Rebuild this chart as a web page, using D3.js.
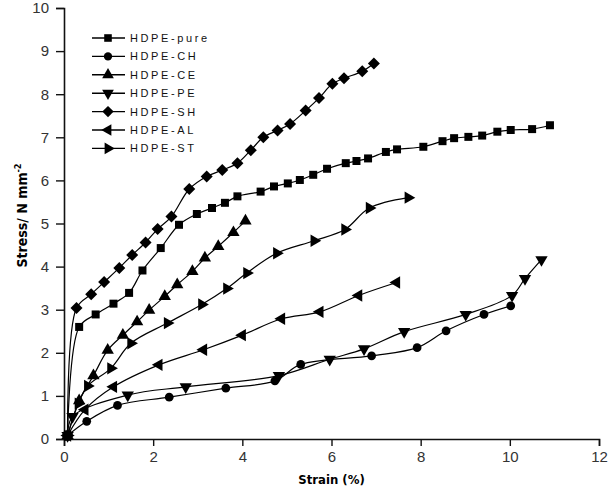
<!DOCTYPE html>
<html>
<head>
<meta charset="utf-8">
<script src="https://cdn.jsdelivr.net/npm/d3@7"></script>
<style>
  body { margin: 0; background: #fff; }
  svg { display: block; }
</style>
</head>
<body>
<div id="chart"></div>
<script>
// values (strain %, stress N/mm2)
var pureX = [0.08, 0.34, 0.71, 1.11, 1.46, 1.76, 2.17, 2.58, 2.98, 3.32, 3.61, 3.89, 4.41, 4.71, 5.02, 5.29, 5.59, 5.90, 6.32, 6.56, 6.82, 7.22, 7.47, 8.06, 8.49, 8.75, 9.07, 9.38, 9.72, 10.02, 10.50, 10.90];
var pureY = [0.08, 2.60, 2.89, 3.14, 3.39, 3.91, 4.43, 4.97, 5.22, 5.36, 5.48, 5.63, 5.74, 5.86, 5.93, 6.01, 6.13, 6.27, 6.40, 6.45, 6.51, 6.66, 6.72, 6.78, 6.91, 6.98, 7.01, 7.04, 7.13, 7.17, 7.19, 7.28];

var chX = [0.08, 0.51, 1.20, 2.36, 3.63, 4.73, 5.31, 6.90, 7.92, 8.57, 9.42, 10.02];
var chY = [0.08, 0.41, 0.78, 0.97, 1.18, 1.35, 1.73, 1.93, 2.12, 2.51, 2.89, 3.09];

var ceX = [0.08, 0.34, 0.66, 0.98, 1.32, 1.64, 1.91, 2.26, 2.54, 2.88, 3.16, 3.46, 3.80, 4.07];
var ceY = [0.08, 0.89, 1.47, 2.06, 2.41, 2.72, 2.99, 3.31, 3.58, 3.89, 4.20, 4.47, 4.79, 5.06];

var peX = [0.08, 0.19, 1.43, 2.73, 4.82, 5.96, 6.73, 7.63, 9.01, 10.05, 10.34, 10.71];
var peY = [0.08, 0.52, 1.02, 1.21, 1.47, 1.85, 2.09, 2.49, 2.89, 3.33, 3.72, 4.16];

var shX = [0.08, 0.28, 0.61, 0.90, 1.24, 1.53, 1.83, 2.10, 2.41, 2.81, 3.20, 3.55, 3.89, 4.19, 4.47, 4.79, 5.07, 5.42, 5.72, 6.02, 6.28, 6.69, 6.95];
var shY = [0.08, 3.04, 3.36, 3.64, 3.97, 4.27, 4.56, 4.87, 5.16, 5.80, 6.09, 6.24, 6.40, 6.70, 7.00, 7.16, 7.31, 7.62, 7.91, 8.24, 8.37, 8.53, 8.71];

var alX = [0.08, 0.47, 1.11, 2.13, 3.13, 4.00, 4.88, 5.74, 6.61, 7.46];
var alY = [0.08, 0.68, 1.21, 1.72, 2.07, 2.41, 2.79, 2.95, 3.33, 3.63];

var stX = [0.08, 0.32, 0.53, 1.05, 1.50, 2.32, 3.09, 3.65, 4.10, 4.77, 5.61, 6.30, 6.85, 7.72];
var stY = [0.08, 0.82, 1.23, 1.64, 2.22, 2.69, 3.12, 3.49, 3.85, 4.31, 4.60, 4.86, 5.36, 5.60];

var seriesNames = ["HDPE-pure", "HDPE-CH", "HDPE-CE", "HDPE-PE", "HDPE-SH", "HDPE-AL", "HDPE-ST"];
var xTicks = [0, 2, 4, 6, 8, 10, 12];
var yTicks = [0, 1, 2, 3, 4, 5, 6, 7, 8, 9, 10];

var W = 610, H = 488;
var margin = { top: 8, right: 11, bottom: 49, left: 64 };
var width = W - margin.left - margin.right;
var height = H - margin.top - margin.bottom;

// marker shape per series: symbol, rotation, area
var shapes = [
  { sym: d3.symbolSquare, rot: 0, size: 64 },
  { sym: d3.symbolCircle, rot: 0, size: 60 },
  { sym: d3.symbolTriangle, rot: 0, size: 66 },
  { sym: d3.symbolTriangle, rot: 180, size: 66 },
  { sym: d3.symbolSquare, rot: 45, size: 72 },
  { sym: d3.symbolTriangle, rot: -90, size: 66 },
  { sym: d3.symbolTriangle, rot: 90, size: 66 }
];

var series = [
  [pureX, pureY], [chX, chY], [ceX, ceY], [peX, peY],
  [shX, shY], [alX, alY], [stX, stY]
].map(function (s, i) {
  return { name: seriesNames[i], shape: shapes[i],
    pts: s[0].map(function (v, j) { return [v, s[1][j]]; }) };
});

var svg = d3.select("#chart").append("svg")
  .attr("width", W).attr("height", H);

var g = svg.append("g")
  .attr("transform", "translate(" + margin.left + "," + margin.top + ")");

var x = d3.scaleLinear().domain([0, 12]).range([0, width]);
var y = d3.scaleLinear().domain([0, 10]).range([height, 0]);

var tickFont = "'Liberation Sans Narrow', 'Arial Narrow', sans-serif";

// axes
var xAxis = g.append("g")
  .attr("transform", "translate(0," + height + ")")
  .call(d3.axisBottom(x).tickValues(xTicks).tickSize(7).tickPadding(5));
var yAxis = g.append("g")
  .call(d3.axisLeft(y).tickValues(yTicks).tickSize(8).tickPadding(7));

[xAxis, yAxis].forEach(function (a) {
  a.select(".domain").attr("stroke", "#111").attr("stroke-width", 1.6);
  a.selectAll(".tick line").attr("stroke", "#111").attr("stroke-width", 1.4);
  a.selectAll(".tick text")
    .style("font-family", tickFont)
    .style("font-size", "15px")
    .attr("fill", "#333");
});

// curves
var line = d3.line()
  .x(function (d) { return x(d[0]); })
  .y(function (d) { return y(d[1]); })
  .curve(d3.curveCatmullRom.alpha(0.5));

series.forEach(function (s) {
  g.append("path")
    .datum(s.pts)
    .attr("d", line)
    .attr("fill", "none")
    .attr("stroke", "#000")
    .attr("stroke-width", 1.2);

  g.selectAll(null)
    .data(s.pts)
    .enter()
    .append("path")
    .attr("d", d3.symbol().type(s.shape.sym).size(s.shape.size))
    .attr("transform", function (d) {
      return "translate(" + x(d[0]) + "," + y(d[1]) + ") rotate(" + s.shape.rot + ")";
    })
    .attr("fill", "#000");
});

// legend
var legend = svg.append("g").attr("transform", "translate(92,38)");
series.forEach(function (s, i) {
  var row = legend.append("g").attr("transform", "translate(0," + (i * 18.4) + ")");
  row.append("line")
    .attr("x1", 0).attr("x2", 33).attr("y1", 0).attr("y2", 0)
    .attr("stroke", "#000").attr("stroke-width", 1.4);
  row.append("path")
    .attr("d", d3.symbol().type(s.shape.sym).size(s.shape.size * 0.9))
    .attr("transform", "translate(16,0) rotate(" + s.shape.rot + ")")
    .attr("fill", "#000");
  row.append("text")
    .attr("x", 38).attr("y", 4)
    .style("font-family", "'Liberation Sans', Arial, sans-serif")
    .style("font-size", "11px")
    .style("letter-spacing", "2.6px")
    .attr("fill", "#111")
    .text(s.name);
});

// axis titles
var titleFont = "'DejaVu Sans Condensed', 'DejaVu Sans', sans-serif";
svg.append("text")
  .attr("x", margin.left + width / 2).attr("y", 484)
  .attr("text-anchor", "middle")
  .style("font-family", titleFont)
  .style("font-size", "13px")
  .style("font-weight", "bold")
  .text("Strain (%)");

var yt = svg.append("text")
  .attr("transform", "translate(27," + (margin.top + height / 2 - 8) + ") rotate(-90)")
  .attr("text-anchor", "middle")
  .style("font-family", titleFont)
  .style("font-size", "14px")
  .style("font-weight", "bold");
yt.append("tspan").text("Stress/ N mm");
yt.append("tspan").attr("dy", -6).style("font-size", "9px").text("-2");
</script>
</body>
</html>
